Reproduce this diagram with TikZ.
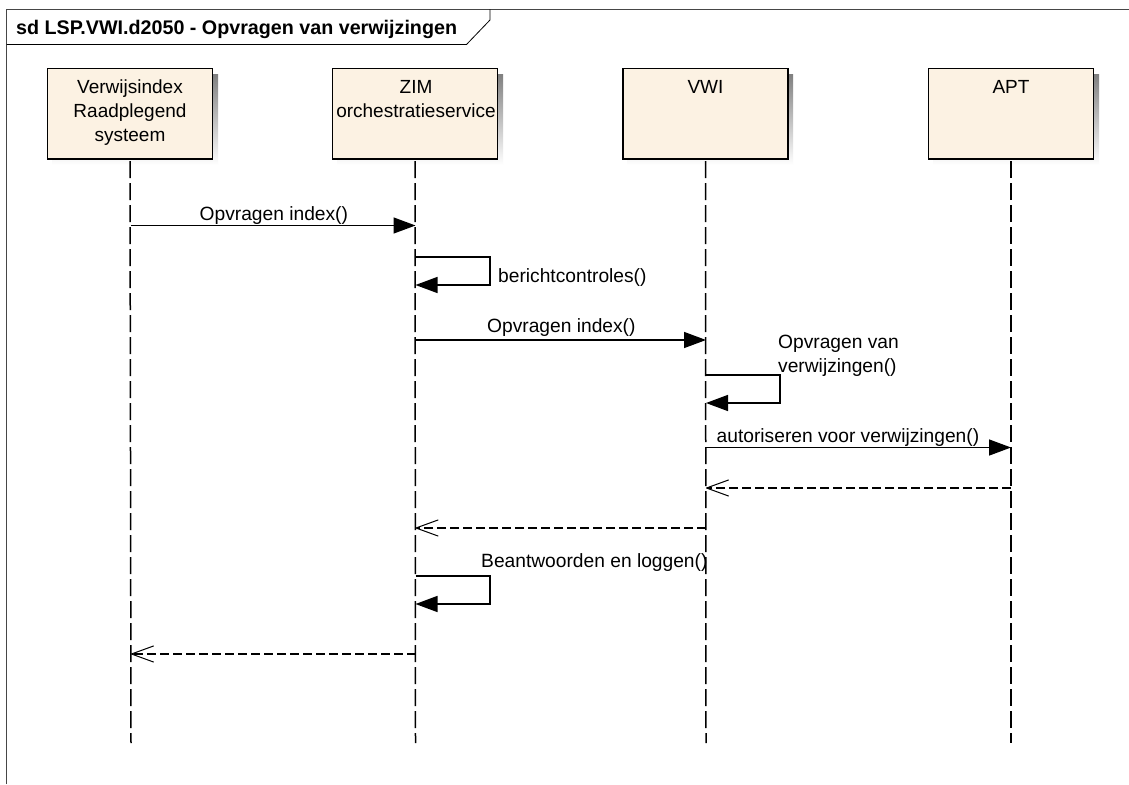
\documentclass[tikz,border=0pt]{standalone}
\usepackage{fontspec}
\setmainfont{Liberation Sans}
\usetikzlibrary{arrows.meta}
\definecolor{boxfill}{RGB}{252,242,227}
\definecolor{shade}{RGB}{190,190,190}
\definecolor{framec}{RGB}{70,70,70}
\tikzset{
  x=1pt,y=-1pt,
  actor/.style={draw=black,line width=1.5pt,fill=boxfill,minimum width=165pt,minimum height=90.5pt,inner sep=0pt,outer sep=0pt,anchor=north west},
  atext/.style={font=\fontsize{19}{24}\selectfont,align=center,anchor=north,inner sep=0pt},
  label/.style={font=\fontsize{19.2}{24}\selectfont,align=left,inner sep=0pt,anchor=base west},
  life/.style={draw=black,line width=1.5pt,dash pattern=on 17pt off 5pt},
  msg/.style={draw=black,line width=1.5pt,-{Triangle[length=22pt,width=16pt]}},
  selfmsg/.style={draw=black,line width=1.5pt,-{Triangle[length=22pt,width=16pt]}},
  ret/.style={draw=black,line width=1.5pt,dash pattern=on 9pt off 4pt,-{Straight Barb[length=22pt,width=16pt,line width=1pt,angle'=40,round=false]}}
}
\begin{document}
\begin{tikzpicture}
\useasboundingbox (0,0) rectangle (1129,784);
\fill[white] (0,0) rectangle (1129,784);
% frame
\draw[framec,line width=1pt] (6.5,784) -- (6.5,9.5) -- (1129,9.5);
\draw[black,line width=0.8pt] (6.5,44.5) -- (466.5,44.5) -- (490,20) -- (490,9.5);
\node[inner sep=0pt,anchor=base west,font=\fontsize{19.7}{22}\selectfont\bfseries] (title) at (16,35) {sd LSP.VWI.d2050 - Opvragen van verwijzingen};
% shadows
\fill[shade] (52.5,74) rectangle (218,165);
\fill[shade] (337.5,74) rectangle (503,165);
\fill[shade] (627.5,74) rectangle (793,165);
\fill[shade] (933.5,74) rectangle (1099,165);
% actors
\node[actor] (A) at (47.5,68.5) {};
\node[actor] (B) at (332.5,68.5) {};
\node[actor] (C) at (623,68.5) {};
\node[actor] (D) at (928.5,68.5) {};
\node[atext] (At) at (130,80) {Verwijsindex\\Raadplegend\\systeem};
\node[atext] (Bt) at (416,80) {ZIM\\orchestratieservice};
\node[atext] (Ct) at (705.5,80) {VWI};
\node[atext] (Dt) at (1011,80) {APT};
% lifeline ends
\coordinate (Ae) at (131,743);
\coordinate (Be) at (415.5,743);
\coordinate (Ce) at (706,743);
\coordinate (De) at (1011,743);
\draw[life] (A.south) ++(0,2) -- (Ae);
\draw[life] (B.south) ++(0,2) -- (Be);
\draw[life] (C.south) ++(0,2) -- (Ce);
\draw[life] (D.south) ++(0,2) -- (De);
% message anchors
\coordinate (m1a) at (131,225.5); \coordinate (m1b) at (415.5,225.5);
\coordinate (s1a) at (415.5,257); \coordinate (s1b) at (490,257); \coordinate (s1c) at (490,285); \coordinate (s1d) at (415.5,285);
\coordinate (m2a) at (415.5,340); \coordinate (m2b) at (706,340);
\coordinate (s2a) at (706,375); \coordinate (s2b) at (780,375); \coordinate (s2c) at (780,403); \coordinate (s2d) at (706,403);
\coordinate (m3a) at (706,447.5); \coordinate (m3b) at (1011,447.5);
\coordinate (r1a) at (1011,488); \coordinate (r1b) at (706,488);
\coordinate (r2a) at (706,528); \coordinate (r2b) at (415.5,528);
\coordinate (s3a) at (415.5,576); \coordinate (s3b) at (490,576); \coordinate (s3c) at (490,604); \coordinate (s3d) at (415.5,604);
\coordinate (r3a) at (415.5,654); \coordinate (r3b) at (131,654);
\draw[msg] (m1a) -- (m1b);
\draw[selfmsg] (s1a) -- (s1b) -- (s1c) -- (s1d);
\draw[msg] (m2a) -- (m2b);
\draw[selfmsg] (s2a) -- (s2b) -- (s2c) -- (s2d);
\draw[msg] (m3a) -- (m3b);
\draw[ret] (r1a) -- (r1b);
\draw[ret] (r2a) -- (r2b);
\draw[selfmsg] (s3a) -- (s3b) -- (s3c) -- (s3d);
\draw[ret] (r3a) -- (r3b);
% labels
\node[label] (l1) at (199.5,220) {Opvragen index()};
\node[label] (l2) at (498,282.5) {berichtcontroles()};
\node[label] (l3) at (487,332) {Opvragen index()};
\node[label] (l4) at (778,348) {Opvragen van};
\node[label] (l5) at (778,372.5) {verwijzingen()};
\node[label] (l6) at (716.5,442) {autoriseren voor verwijzingen()};
\node[label] (l7) at (481,567) {Beantwoorden en loggen()};
\end{tikzpicture}
\end{document}
